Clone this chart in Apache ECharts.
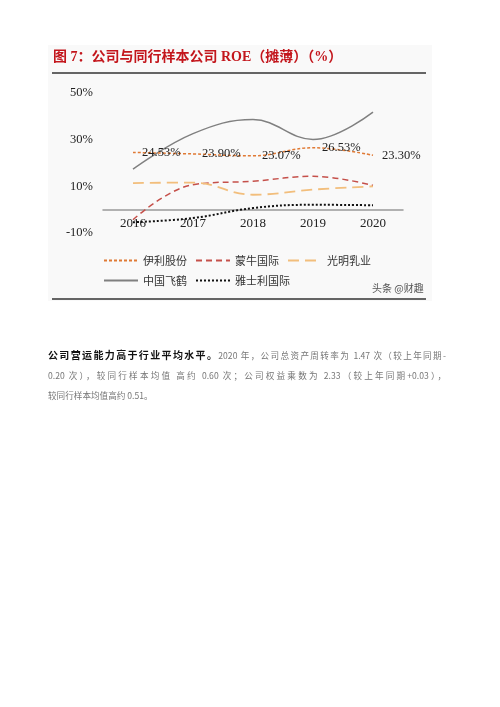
<!DOCTYPE html>
<html lang="zh">
<head>
    <meta charset="UTF-8">
    <title>公司与同行样本公司 ROE（摊薄）</title>
    <style>
        body{ margin:0; background:#fff; }
        #main{ position:absolute; left:0; top:0; width:500px; height:707px; }
        .para{
            position:absolute; left:48px; width:398px;
            font-family:"Noto Sans CJK SC", serif; font-size:8.6px; color:#777;
            white-space:nowrap; line-height:14px;
        }
        .just{ text-align:justify; text-align-last:justify; }
        .para b{ color:#111; font-size:10px; }
    </style>
    <script src="https://cdn.jsdelivr.net/npm/echarts@6/dist/echarts.min.js"></script>
</head>
<body>
<div id="main"></div>
<div class="para just" style="top:348px;"><b>公司营运能力高于行业平均水平。</b>2020 年，公司总资产周转率为 1.47 次（较上年同期-</div>
<div class="para just" style="top:368px;">0.20 次），较同行样本均值 高约 0.60 次；公司权益乘数为 2.33（较上年同期+0.03），</div>
<div class="para" style="top:388px;">较同行样本均值高约 0.51。</div>
<script type="text/javascript">
    // 数据
    var years = ['2016', '2017', '2018', '2019', '2020'];
    var yili = [24.53, 23.90, 23.07, 26.53, 23.30];      // 伊利股份
    var mengniu = [-4.3, 10.7, 12.2, 14.3, 10.4];        // 蒙牛国际
    var guangming = [11.4, 11.6, 6.4, 8.6, 10.0];        // 光明乳业
    var feihe = [17.4, 32.6, 38.6, 30.1, 41.8];          // 中国飞鹤
    var yashili = [-5.4, -3.6, 0.7, 2.1, 1.9];           // 雅士利国际

    var serif = '"Liberation Serif", "Times New Roman", serif';
    var cjk = '"Noto Sans CJK SC", sans-serif';

    function line(name, data, color, type, width) {
        return {
            name: name,
            type: 'line',
            data: data,
            smooth: 0.4,
            symbol: 'none',
            lineStyle: { color: color, type: type, width: width || 1.5 },
            itemStyle: { color: color }
        };
    }

    var myChart = echarts.init(document.getElementById('main'));
    var yiliSeries = line('伊利股份', yili, '#e07a35', [3, 2]);
    yiliSeries.z = 5;
    yiliSeries.symbol = 'circle';
    yiliSeries.symbolSize = 0.01;
    yiliSeries.showSymbol = true;
    yiliSeries.label = {
        show: true, position: 'right', distance: 9,
        fontFamily: serif, fontSize: 12.5, color: '#222',
        formatter: function (p) { return p.value.toFixed(2) + '%'; }
    };

    var legendBase = {
        left: 98, itemWidth: 34, itemHeight: 12, itemGap: 8,
        itemStyle: { opacity: 0 },
        textStyle: { fontFamily: cjk, fontSize: 11, color: '#333' }
    };

    var option = {
        animation: false,
        textStyle: { fontFamily: serif },
        graphic: [
            { type: 'rect', z: -10, shape: { x: 48, y: 45, width: 384, height: 256 },
              style: { fill: '#f9f9f9' } },
            { type: 'text', left: 53, top: 50,
              style: { text: '图 7：公司与同行样本公司 ROE（摊薄）（%）', fill: '#c3161c',
                       font: 'bold 14px "Liberation Serif", "Noto Sans CJK SC", serif' } },
            { type: 'line', shape: { x1: 52, y1: 73, x2: 426, y2: 73 },
              style: { stroke: '#333', lineWidth: 1.5 } },
            { type: 'line', shape: { x1: 52, y1: 299, x2: 426, y2: 299 },
              style: { stroke: '#333', lineWidth: 1.5 } },
            { type: 'text', left: 372, top: 283,
              style: { text: '头条 @财趣', fill: '#555', font: '10px "Noto Sans CJK SC", sans-serif' } }
        ],
        grid: { left: 103, right: 97, top: 93, height: 140 },
        legend: [
            Object.assign({ data: ['伊利股份', '蒙牛国际', '光明乳业'], top: 250 }, legendBase),
            Object.assign({ data: ['中国飞鹤', '雅士利国际'], top: 270 }, legendBase)
        ],
        xAxis: {
            type: 'category',
            data: years,
            boundaryGap: true,
            axisLine: { onZero: true, lineStyle: { color: '#999', width: 1.5 } },
            axisTick: { show: false },
            axisLabel: { margin: -16, fontFamily: serif, fontSize: 13, color: '#222' }
        },
        yAxis: {
            type: 'value',
            min: -10, max: 50, interval: 20,
            axisLine: { show: false },
            axisTick: { show: false },
            splitLine: { show: false },
            axisLabel: { margin: 10, fontFamily: serif, fontSize: 12.5, color: '#222',
                         formatter: function (v) { return v + '%'; } }
        },
        series: [
            yiliSeries,
            line('蒙牛国际', mengniu, '#c5504a', [6, 4]),
            line('光明乳业', guangming, '#f2be7c', [11, 6], 1.8),
            line('中国飞鹤', feihe, '#808080', 'solid'),
            line('雅士利国际', yashili, '#111', [2, 2], 2)
        ]
    };
    myChart.setOption(option);
</script>
</body>
</html>
